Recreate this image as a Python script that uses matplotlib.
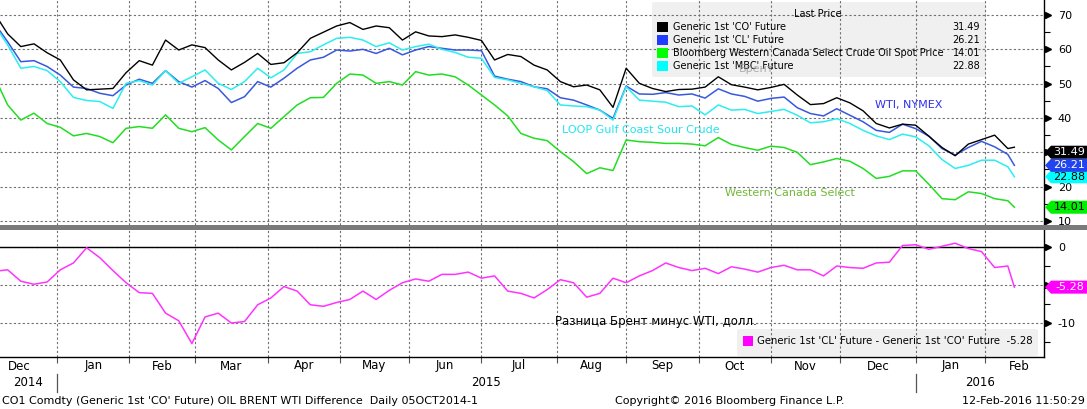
import numpy as np
import pandas as pd
import matplotlib
matplotlib.use("Agg")
import matplotlib.pyplot as plt
import matplotlib.transforms as mtransforms
from matplotlib.patches import Polygon, FancyBboxPatch, Rectangle
from matplotlib.ticker import MultipleLocator, FixedLocator

plt.rcParams['font.family'] = ['DejaVu Sans']

# ---------------- data ----------------
dates = pd.bdate_range('2014-12-05', '2016-02-12')[::4].append(pd.DatetimeIndex(['2016-02-12']))

brent_co = [70.5, 64.5, 60.8, 61.6, 59.0, 56.9, 51.1, 48.2, 48.4, 48.6,
            53.2, 56.7, 55.4, 62.7, 59.8, 61.3, 60.5, 56.9, 54.0, 56.2,
            58.8, 55.6, 56.1, 59.0, 63.2, 65.0, 66.8, 67.8, 65.8, 66.8,
            66.3, 62.7, 65.1, 63.9, 63.7, 64.2, 63.5, 62.6, 56.9, 58.5,
            57.9, 55.4, 54.0, 50.6, 49.1, 49.6, 48.2, 43.1, 54.5, 50.1,
            48.6, 47.7, 48.3, 48.4, 49.0, 52.0, 49.7, 49.0, 48.2, 48.9,
            49.8, 46.7, 43.9, 44.2, 45.9, 44.4, 42.1, 38.4, 37.1, 38.2,
            37.9, 34.7, 31.4, 29.0, 32.4, 33.7, 35.0, 31.1, 31.49]

wti_cl = [67.6, 62.2, 56.4, 56.7, 55.0, 52.5, 49.0, 48.6, 47.2, 46.5,
          49.6, 51.3, 50.1, 53.8, 50.6, 49.0, 50.9, 48.6, 44.5, 46.2,
          50.6, 49.0, 51.6, 54.5, 56.9, 57.7, 59.8, 59.5, 60.0, 58.8,
          60.3, 58.4, 59.8, 60.8, 60.3, 59.8, 59.8, 59.6, 52.2, 51.3,
          50.6, 49.1, 48.5, 45.9, 45.2, 43.8, 42.3, 39.9, 49.3, 47.0,
          46.9, 47.4, 46.7, 47.0, 45.8, 48.5, 47.0, 46.3, 44.9, 45.7,
          46.1, 43.0, 41.3, 40.6, 42.7, 40.8, 38.9, 36.4, 35.8, 38.2,
          36.9, 34.7, 31.1, 29.2, 31.4, 33.2, 31.6, 29.4, 26.21]

wcs = [52.0, 43.8, 39.4, 41.4, 38.4, 37.3, 34.8, 35.5, 34.6, 32.8,
       37.0, 37.5, 37.0, 40.9, 37.0, 36.0, 37.2, 33.6, 30.7, 34.6,
       38.4, 37.0, 40.4, 43.8, 45.9, 46.0, 50.1, 52.8, 52.5, 50.1,
       50.6, 49.6, 53.5, 52.5, 52.8, 52.0, 49.6, 46.7, 43.8, 40.6,
       35.5, 34.1, 33.4, 30.2, 27.3, 23.8, 25.5, 24.7, 33.6, 33.1,
       32.9, 32.6, 32.6, 32.4, 31.9, 34.3, 32.3, 31.4, 30.6, 31.8,
       31.4, 30.0, 26.4, 27.2, 28.2, 27.4, 25.3, 22.4, 23.0, 24.6,
       24.6, 20.7, 16.5, 16.2, 18.5, 18.0, 16.5, 15.9, 14.01]

mbc = [67.1, 61.3, 54.5, 55.0, 53.8, 50.6, 46.0, 45.1, 44.8, 42.8,
       50.1, 50.9, 49.6, 53.8, 50.1, 52.0, 54.0, 50.1, 48.3, 50.6,
       54.5, 51.7, 54.0, 58.8, 59.3, 61.3, 63.2, 63.5, 62.7, 60.8,
       61.9, 59.8, 60.8, 61.5, 60.0, 59.1, 57.7, 57.4, 51.8, 51.1,
       50.1, 49.1, 48.0, 43.8, 43.5, 43.3, 42.3, 39.4, 49.1, 45.2,
       44.9, 44.6, 43.3, 43.5, 40.9, 43.8, 42.3, 42.5, 41.3, 41.9,
       42.5, 40.8, 38.6, 38.9, 39.8, 38.4, 36.4, 34.8, 33.7, 35.3,
       34.5, 31.9, 27.9, 25.3, 26.2, 27.7, 27.7, 25.8, 22.88]

spread = [-3.2, -3.0, -4.5, -4.9, -4.6, -3.0, -2.1, -0.1, -1.4, -3.1,
          -4.7, -6.0, -6.1, -8.7, -9.7, -12.7, -9.2, -8.7, -10.0, -9.8,
          -7.6, -6.7, -5.2, -5.8, -7.6, -7.8, -7.3, -6.9, -5.8, -6.9,
          -5.7, -4.7, -4.2, -4.5, -3.6, -3.6, -3.3, -4.1, -3.8, -5.8,
          -6.1, -6.7, -5.6, -4.3, -4.7, -6.6, -6.1, -4.1, -4.7, -3.8,
          -3.1, -2.1, -2.7, -3.1, -2.8, -3.5, -2.6, -2.9, -3.3, -2.7,
          -2.4, -3.0, -3.0, -3.8, -2.5, -2.7, -2.8, -2.1, -2.0, 0.2,
          0.3, -0.3, 0.1, 0.5, -0.2, -0.6, -2.7, -2.5, -5.28]

series_names = ["Generic 1st 'CO' Future", "Generic 1st 'CL' Future",
                "Bloomberg Western Canada Select Crude Oil Spot Price",
                "Generic 1st 'MBC' Future"]
last_values = ["31.49", "26.21", "14.01", "22.88"]
spread_name = "Generic 1st 'CL' Future - Generic 1st 'CO' Future"
spread_last = "-5.28"
top_ticks = [10, 20, 30, 40, 50, 60, 70]
top_labels = ["10", "20", "", "40", "50", "60", "70"]      # 30 sits under the 31.49 tag
bottom_ticks = [-10, -5, 0]
bottom_labels = ["-10", "", "0"]                           # -5 sits under the -5.28 tag

# ---------------- layout ----------------
W, H = 1087, 409
fig = plt.figure(figsize=(W / 100, H / 100), dpi=100)
fig.patch.set_facecolor('white')

def fx(px):
    return px / W

def fy(py):
    return 1 - py / H

origin = np.datetime64('2014-12-01')
bd = np.busday_count(origin, dates.values.astype('datetime64[D]'))

XL = (5.675, 323.0)
ax1 = fig.add_axes([0, fy(225), 1044 / W, 225 / H])
ax2 = fig.add_axes([0, fy(357), 1044 / W, (357 - 229) / H])
ax1.set_xlim(XL)
ax2.set_xlim(XL)
ax1.set_ylim(8.83, 74.37)
ax2.set_ylim(-14.47, 2.37)

C_CO, C_CL, C_WCS, C_MBC, C_SP = 'black', '#3858de', '#22dd22', '#2aeef0', '#ff33ff'

ax1.plot(bd, wti_cl, color=C_CL, lw=1.1, zorder=2)
ax1.plot(bd, mbc, color=C_MBC, lw=1.1, zorder=2)
ax1.plot(bd, wcs, color=C_WCS, lw=1.1, zorder=2)
ax1.plot(bd, brent_co, color=C_CO, lw=1.0, zorder=2.1)
ax2.plot(bd, spread, color=C_SP, lw=1.1, zorder=2)
ax2.axhline(0, color='black', lw=1.0, zorder=1.5)

# month ticks
mstarts = pd.date_range('2014-12-01', '2016-03-01', freq='MS')
mpos = np.busday_count(origin, mstarts.values.astype('datetime64[D]'))
grid_pos = [p for p in mpos if XL[0] < p < XL[1]]

gstyle = dict(color='#707070', linestyle=(0, (2, 2)), linewidth=0.8)
for ax in (ax1, ax2):
    ax.set_axisbelow(True)
    ax.xaxis.set_major_locator(FixedLocator(grid_pos))
    ax.grid(True, which='major', **gstyle)
    for s in ('left', 'top', 'bottom'):
        ax.spines[s].set_visible(False)
    ax.spines['right'].set_color('black')
    ax.spines['right'].set_linewidth(1.0)
    ax.yaxis.tick_right()
    ax.tick_params(axis='y', which='major', length=0, pad=10, labelsize=8, colors='black')
    ax.tick_params(axis='y', which='minor', length=4.5, width=0.8, direction='out', color='black')
    ax.tick_params(axis='x', which='both', labelbottom=False)

ax1.tick_params(axis='x', length=0)
ax2.spines['bottom'].set_visible(True)
ax2.spines['bottom'].set_color('black')
ax2.spines['bottom'].set_linewidth(1.0)
ax2.tick_params(axis='x', which='major', length=4, width=0.8, direction='out', color='#555555')

ax1.set_yticks(top_ticks)
ax1.set_yticklabels(top_labels)
ax1.yaxis.set_minor_locator(MultipleLocator(5))
ax2.set_yticks(bottom_ticks)
ax2.set_yticklabels(bottom_labels)
ax2.yaxis.set_minor_locator(MultipleLocator(2.5))

# arrow markers on major ticks
for ax, ticks in ((ax1, top_ticks), (ax2, bottom_ticks)):
    tr = mtransforms.offset_copy(mtransforms.blended_transform_factory(ax.transAxes, ax.transData),
                                 fig=fig, x=3.5, y=0, units='dots')
    ax.plot([1.0] * len(ticks), ticks, ls='none', marker='>', ms=5, color='black',
            transform=tr, clip_on=False, zorder=4)

# gray separator
fig.patches.append(Rectangle((0, fy(229.5)), 1, 5 / H, transform=fig.transFigure,
                             facecolor='#7a7a7a', edgecolor='none', zorder=3))

# month labels and years
trm = mtransforms.blended_transform_factory(ax2.transData, fig.transFigure)
for a, b, d in zip(mpos[:-1], mpos[1:], mstarts[:-1]):
    ax2.text((a + b) / 2, fy(366), d.strftime('%b'), transform=trm, ha='center', va='center',
             fontsize=8.5, clip_on=False)
ystarts = [XL[0], mpos[1], mpos[13], XL[1]]
for a, b, yl in zip(ystarts[:-1], ystarts[1:], ['2014', '2015', '2016']):
    ax2.text((a + b) / 2, fy(383), yl, transform=trm, ha='center', va='center', fontsize=8.5,
             clip_on=False)
for p in (mpos[1], mpos[13]):
    ax2.plot([p, p], [fy(374), fy(392)], transform=trm, color='#555555', lw=0.9, clip_on=False)

# footer
fig.text(fx(2), fy(401), "CO1 Comdty (Generic 1st 'CO' Future) OIL BRENT WTI Difference  Daily 05OCT2014-1",
         ha='left', va='center', fontsize=8)
fig.text(fx(730), fy(401), "Copyright\u00a9 2016 Bloomberg Finance L.P.", ha='center', va='center', fontsize=8)
fig.text(fx(1085), fy(401), "12-Feb-2016 11:50:29", ha='right', va='center', fontsize=8)

# legend (top)
ax1.add_patch(FancyBboxPatch((fx(652), fy(77)), fx(986) - fx(652), (77 - 2) / H,
                             boxstyle='round,pad=0,rounding_size=0.004', transform=fig.transFigure,
                             facecolor='#f0f0f0', edgecolor='none', zorder=0.3, clip_on=False))
ax1.text(fx(818), fy(14), "Last Price", transform=fig.transFigure, ha='center', va='center',
         fontsize=7, zorder=5)
leg_colors = ['black', '#1f3cff', '#00ff00', '#00ffff']
for k, (nm, val, col) in enumerate(zip(series_names, last_values, leg_colors)):
    yy = 27 + 13 * k
    ax1.add_patch(Rectangle((fx(657), fy(yy + 5)), 11 / W, 10 / H, transform=fig.transFigure,
                            facecolor=col, edgecolor='none', zorder=5, clip_on=False))
    ax1.text(fx(673), fy(yy), nm, transform=fig.transFigure, ha='left', va='center', fontsize=7, zorder=5)
    ax1.text(fx(980), fy(yy), val, transform=fig.transFigure, ha='right', va='center', fontsize=7, zorder=5)
ax1.text(fx(739), fy(69), "Брент", transform=fig.transFigure, ha='left', va='center', fontsize=8,
         color='#9a9a9a', alpha=0.8, zorder=5.5)

# legend (bottom)
ax2.add_patch(FancyBboxPatch((fx(737), fy(356)), fx(1038) - fx(737), (356 - 329) / H,
                             boxstyle='round,pad=0,rounding_size=0.004', transform=fig.transFigure,
                             facecolor='#f0f0f0', edgecolor='none', zorder=0.3, clip_on=False))
ax2.add_patch(Rectangle((fx(743), fy(345.5)), 10 / W, 10 / H, transform=fig.transFigure,
                        facecolor='#ff00ff', edgecolor='none', zorder=5, clip_on=False))
ax2.text(fx(757), fy(341), spread_name + "  " + spread_last, transform=fig.transFigure,
         ha='left', va='center', fontsize=7.3, zorder=5)

# annotations
fig.text(fx(875), fy(105), "WTI, NYMEX", color='#2f2ff0', ha='left', va='center', fontsize=8)
fig.text(fx(562), fy(130), "LOOP Gulf Coast Sour Crude", color='#22e4ee', ha='left', va='center', fontsize=8)
fig.text(fx(725), fy(193.5), "Western Canada Select", color='#72b83a', ha='left', va='center', fontsize=8)
fig.text(fx(555), fy(322), "Разница Брент минус WTI, долл.", color='black', ha='left', va='center', fontsize=8.5)

# value tags
def tag(ax, value, fc, tc, text, dy=0.0, z=6):
    disp = ax.transData.transform((XL[1], value))
    ypx = H - disp[1] + dy
    pts = [(1045, ypx), (1051, ypx - 6.5), (1087, ypx - 6.5), (1087, ypx + 6.5), (1051, ypx + 6.5)]
    fig.patches.append(Polygon([(fx(a), fy(b)) for a, b in pts], closed=True,
                               transform=fig.transFigure, facecolor=fc, edgecolor='none', zorder=z))
    fig.text(fx(1069.5), fy(ypx), text, color=tc, ha='center', va='center', fontsize=8, zorder=z + 0.5)

tag(ax1, float(last_values[2]), '#00ee00', 'black', last_values[2], z=6)
tag(ax1, float(last_values[3]), '#00ffff', 'black', last_values[3], z=6)
tag(ax1, float(last_values[1]), '#2244ee', 'white', last_values[1], z=7)
tag(ax1, float(last_values[0]), 'black', 'white', last_values[0], dy=5, z=7)
tag(ax2, float(spread_last), '#ff00ff', 'white', spread_last, z=7)

fig.savefig('out.png', dpi=100, facecolor='white')
